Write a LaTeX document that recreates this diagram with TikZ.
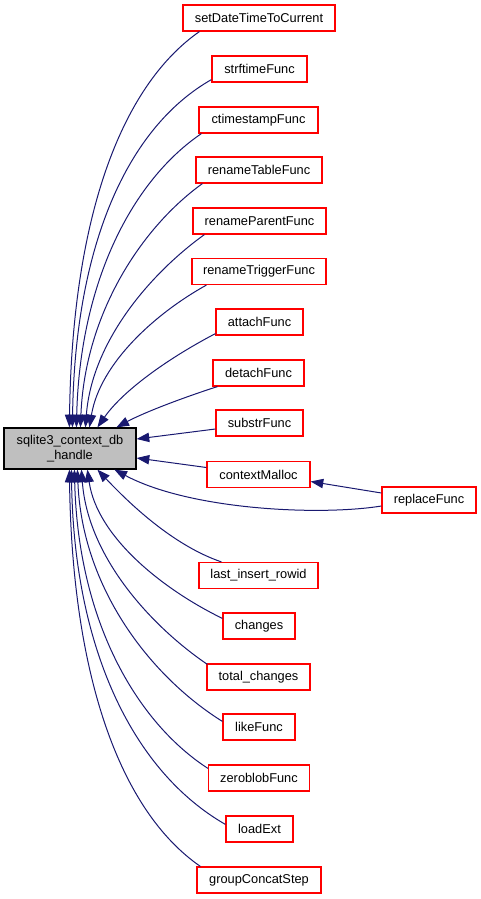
\documentclass[tikz,border=0pt]{standalone}
\usepackage{fontspec}
\setmainfont{Liberation Sans}
\usetikzlibrary{arrows.meta,calc}
\definecolor{edgeblue}{RGB}{25,25,112}
\definecolor{mainfill}{RGB}{191,191,191}
\begin{document}
\begin{tikzpicture}[x=0.75pt,y=-0.75pt,
  font=\fontsize{9.6pt}{11.5pt}\selectfont,
  fn/.style={draw=red, line width=0.9pt, fill=white, minimum height=19.5pt, inner sep=0pt, text=black},
  mainbox/.style={draw=black, line width=0.9pt, fill=mainfill, minimum width=99pt, minimum height=30.75pt, inner sep=0pt, align=center},
  edge/.style={draw=edgeblue, line width=0.75pt, -{Triangle[length=9.5pt,width=7pt]}, fill=none}
]
\useasboundingbox (0,0) rectangle (481,899);

\node[mainbox] (main) at (70,448.5) {sqlite3\_context\_db\\\_handle};

\node[fn, minimum width=114pt]   (n1)  at (259,18)    {setDateTimeToCurrent};
\node[fn, minimum width=71.25pt] (n2)  at (259.5,69)  {strftimeFunc};
\node[fn, minimum width=89.25pt] (n3)  at (258.5,120) {ctimestampFunc};
\node[fn, minimum width=94.5pt]  (n4)  at (259,170)   {renameTableFunc};
\node[fn, minimum width=99.75pt] (n5)  at (259.5,221) {renameParentFunc};
\node[fn, minimum width=100.5pt] (n6)  at (259,271.5) {renameTriggerFunc};
\node[fn, minimum width=65.25pt] (n7)  at (259.5,322) {attachFunc};
\node[fn, minimum width=68.25pt] (n8)  at (258.5,373) {detachFunc};
\node[fn, minimum width=65.25pt] (n9)  at (259.5,423) {substrFunc};
\node[fn, minimum width=77.25pt] (n10) at (258.5,474.5) {contextMalloc};
\node[fn, minimum width=70.5pt]  (n11) at (429,500)   {replaceFunc};
\node[fn, minimum width=89.25pt] (n12) at (258.5,575.5) {last\_insert\_rowid};
\node[fn, minimum width=54pt]    (n13) at (259,626)   {changes};
\node[fn, minimum width=77.25pt] (n14) at (258.5,677) {total\_changes};
\node[fn, minimum width=54pt]    (n15) at (259,727)   {likeFunc};
\node[fn, minimum width=75.75pt] (n16) at (259,778)   {zeroblobFunc};
\node[fn, minimum width=50.25pt] (n17) at (259.5,829) {loadExt};
\node[fn, minimum width=93pt]    (n18) at (259,880)   {groupConcatStep};

% upper group
\draw[edge] ($(n1.south west)+(17,0)$) .. controls (120,87) and (72,220) .. ($(main.north west)+(66,0)$);
\draw[edge] ($(n2.south west)+(0,-3)$) .. controls (126.5,128) and (75,246.5) .. ($(main.north west)+(69,0)$);
\draw[edge] ($(n3.south west)+(3,0)$) .. controls (133,180) and (80,280.5) .. ($(main.north west)+(73,0)$);
\draw[edge] ($(n4.south west)+(7,0)$) .. controls (142,227) and (85,313) .. ($(main.north west)+(77,0)$);
\draw[edge] ($(n5.south west)+(12,0)$) .. controls (151,273) and (92,341) .. ($(main.north west)+(82,0)$);
\draw[edge] ($(n6.south west)+(15,0)$) .. controls (156,313) and (100,363) .. ($(main.north west)+(86,0)$);
\draw[edge] ($(n7.south west)+(0,-2)$) .. controls (165,360) and (122,392) .. ($(main.north west)+(94,0)$);
\draw[edge] ($(n8.south west)+(5,0)$) .. controls (185,397) and (145,412) .. ($(main.north west)+(113,0)$);
\draw[edge] ($(n9.west)+(0,6)$) -- ($(main.east)+(0,-9.5)$);
\draw[edge] ($(n10.west)+(0,-7)$) -- ($(main.east)+(0,9.5)$);
\draw[edge] ($(n11.west)+(0,-7)$) -- ($(n10.east)+(0,7)$);
\draw[edge] ($(n11.west)+(0,6)$) .. controls (320,516) and (190,510) .. ($(main.south west)+(111,0)$);
% lower group
\draw[edge] ($(n12.north west)+(23,0)$) .. controls (172,545) and (128,502) .. ($(main.south west)+(94,0)$);
\draw[edge] ($(n13.north west)+(0,6)$) .. controls (162,589) and (97,536.5) .. ($(main.south west)+(84,0)$);
\draw[edge] ($(n14.north west)+(1,1)$) .. controls (151,626) and (88,557) .. ($(main.south west)+(78,0)$);
\draw[edge] ($(n15.north west)+(0,8)$) .. controls (150.5,676.5) and (82,588) .. ($(main.south west)+(74,0)$);
\draw[edge] ($(n16.north west)+(0,4)$) .. controls (135,721) and (78,619) .. ($(main.south west)+(71,0)$);
\draw[edge] ($(n17.north west)+(0,9)$) .. controls (134,772) and (74,650.6) .. ($(main.south west)+(68,0)$);
\draw[edge] ($(n18.north west)+(4,0)$) .. controls (120,811) and (72,676) .. ($(main.south west)+(66,0)$);
\end{tikzpicture}
\end{document}
